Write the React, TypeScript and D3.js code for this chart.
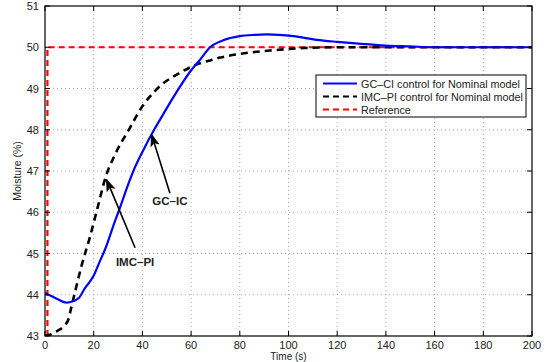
import * as d3 from 'd3';

// GC-CI response (blue)
const gcTime = [0, 4, 8.9, 13.7, 16.4, 19.8, 22.6, 24.6, 28.7, 30.1, 34.9, 36.3, 40.4, 44.8, 47.2, 51, 55.5, 59.5, 63.7, 67.8, 73.2, 80, 86, 91, 96, 102, 111.6, 120, 130, 140, 150, 160, 200];
const gcValue = [44.04, 43.93, 43.81, 43.91, 44.16, 44.44, 44.82, 45.09, 45.78, 46.0, 46.79, 47.0, 47.51, 48.0, 48.24, 48.62, 49.05, 49.4, 49.7, 50.0, 50.17, 50.27, 50.3, 50.31, 50.3, 50.27, 50.18, 50.13, 50.08, 50.04, 50.02, 50.0, 50.0];

// IMC-PI response (black dashed)
const imcTime = [0, 2, 5.3, 8, 9.6, 10.7, 12.3, 15, 18.5, 21.2, 25, 28.7, 35, 40, 45, 48, 52.7, 55.4, 59.5, 64, 67.8, 72, 80, 92.4, 106, 120, 200];
const imcValue = [43.0, 43.03, 43.13, 43.25, 43.4, 43.67, 44.06, 44.7, 45.41, 46.02, 46.87, 47.39, 48.06, 48.57, 48.93, 49.1, 49.29, 49.38, 49.51, 49.62, 49.68, 49.75, 49.84, 49.92, 49.98, 50.0, 50.0];

// Reference step (red dashed)
const refTime = [1, 1, 200];
const refValue = [43, 50, 50];

const xTicks = [0, 20, 40, 60, 80, 100, 120, 140, 160, 180, 200];
const yTicks = [43, 44, 45, 46, 47, 48, 49, 50, 51];

const legendLabels = ['GC\u2013CI control for Nominal model', 'IMC\u2013PI control for Nominal model', 'Reference'];

// arrow annotations
const arrowNames = ['IMC\u2013PI', 'GC\u2013IC'];
const arrowTip: [number, number][] = [[25.3, 46.79], [43.8, 47.88]];
const arrowTail: [number, number][] = [[37, 45.14], [51.3, 46.46]];
const arrowLabel: [number, number][] = [[37, 44.8], [51.3, 46.28]];

const W = 551;
const H = 362;
const margin = { top: 6, right: 19, bottom: 26, left: 45 };
const FONT = '"Liberation Sans", Arial, Helvetica, sans-serif';

export default function App() {
  const iw = W - margin.left - margin.right;
  const ih = H - margin.top - margin.bottom;
  const x = d3.scaleLinear().domain([0, 200]).range([0, iw]);
  const y = d3.scaleLinear().domain([43, 51]).range([ih, 0]);

  const line = d3
    .line<[number, number]>()
    .x((d) => x(d[0]))
    .y((d) => y(d[1]))
    .curve(d3.curveMonotoneX);
  const straight = d3
    .line<[number, number]>()
    .x((d) => x(d[0]))
    .y((d) => y(d[1]));

  const gcData = gcTime.map((t, i) => [t, gcValue[i]] as [number, number]);
  const imcData = imcTime.map((t, i) => [t, imcValue[i]] as [number, number]);
  const refData = refTime.map((t, i) => [t, refValue[i]] as [number, number]);

  const arrowHead = (tip: [number, number], tail: [number, number]) => {
    const tx = x(tip[0]);
    const ty = y(tip[1]);
    const ang = Math.atan2(ty - y(tail[1]), tx - x(tail[0]));
    const len = 11;
    const half = 4;
    const bx = tx - len * Math.cos(ang);
    const by = ty - len * Math.sin(ang);
    const nx = -Math.sin(ang);
    const ny = Math.cos(ang);
    const mx = tx - (len - 3) * Math.cos(ang);
    const my = ty - (len - 3) * Math.sin(ang);
    return `M${tx},${ty}L${bx + nx * half},${by + ny * half}L${mx},${my}L${bx - nx * half},${by - ny * half}Z`;
  };

  const legX = 316 - margin.left;
  const legY = 75 - margin.top;
  const legW = 210;
  const legH = 42;

  return (
    <svg width={W} height={H} style={{ position: 'absolute', left: 0, top: 0, background: '#fff' }} fontFamily={FONT}>
      <defs>
        <clipPath id="plotClip">
          <rect x={0} y={0} width={iw} height={ih} />
        </clipPath>
      </defs>
      <g transform={`translate(${margin.left},${margin.top})`}>
        {/* grid */}
        {xTicks.slice(1, -1).map((t) => (
          <line key={'gx' + t} x1={x(t)} x2={x(t)} y1={0} y2={ih} stroke="#999" strokeWidth={0.8} strokeDasharray="1,3" />
        ))}
        {yTicks.slice(1, -1).map((t) => (
          <line key={'gy' + t} x1={0} x2={iw} y1={y(t)} y2={y(t)} stroke="#999" strokeWidth={0.8} strokeDasharray="1,3" />
        ))}

        {/* curves */}
        <g clipPath="url(#plotClip)">
          <path d={straight(refData) ?? ''} fill="none" stroke="#ff0000" strokeWidth={2.2} strokeDasharray="6,4" />
          <path d={line(imcData) ?? ''} fill="none" stroke="#000" strokeWidth={2.6} strokeDasharray="7,5" />
          <path d={line(gcData) ?? ''} fill="none" stroke="#0000ff" strokeWidth={2.2} />
        </g>

        {/* arrows */}
        {arrowNames.map((name, i) => (
          <g key={name}>
            <line
              x1={x(arrowTail[i][0])}
              y1={y(arrowTail[i][1])}
              x2={x(arrowTip[i][0])}
              y2={y(arrowTip[i][1])}
              stroke="#000"
              strokeWidth={1.6}
            />
            <path d={arrowHead(arrowTip[i], arrowTail[i])} fill="#000" stroke="#000" strokeWidth={1} />
            <text
              x={x(arrowLabel[i][0])}
              y={y(arrowLabel[i][1])}
              textAnchor="middle"
              dominantBaseline="central"
              fontSize={11.5}
              fontWeight="bold"
              fill="#222"
            >
              {name}
            </text>
          </g>
        ))}

        {/* axes box and inward ticks */}
        <rect x={0} y={0} width={iw} height={ih} fill="none" stroke="#000" strokeWidth={1.2} />
        {xTicks.map((t) => (
          <g key={'tx' + t}>
            <line x1={x(t)} x2={x(t)} y1={ih} y2={ih - 5} stroke="#000" />
            <line x1={x(t)} x2={x(t)} y1={0} y2={5} stroke="#000" />
            <text x={x(t)} y={ih + 9} textAnchor="middle" dominantBaseline="central" fontSize={11} fill="#222">
              {t}
            </text>
          </g>
        ))}
        {yTicks.map((t) => (
          <g key={'ty' + t}>
            <line x1={0} x2={5} y1={y(t)} y2={y(t)} stroke="#000" />
            <line x1={iw} x2={iw - 5} y1={y(t)} y2={y(t)} stroke="#000" />
            <text x={-6} y={y(t)} textAnchor="end" dominantBaseline="central" fontSize={11} fill="#222">
              {t}
            </text>
          </g>
        ))}

        {/* axis labels */}
        <text x={iw / 2} y={ih + 20} textAnchor="middle" dominantBaseline="central" fontSize={10} fill="#222">
          Time (s)
        </text>
        <text
          transform={`translate(${-28},${ih / 2}) rotate(-90)`}
          textAnchor="middle"
          dominantBaseline="central"
          fontSize={10.5}
          fill="#222"
        >
          Moisture (%)
        </text>

        {/* legend */}
        <g transform={`translate(${legX},${legY})`}>
          <rect x={0} y={0} width={legW} height={legH} fill="#fff" stroke="#000" strokeWidth={1} />
          {legendLabels.map((lab, i) => {
            const ly = 8.5 + i * 13;
            const stroke = i === 0 ? '#0000ff' : i === 1 ? '#000' : '#ff0000';
            const dash = i === 0 ? undefined : '6,4';
            return (
              <g key={lab}>
                <line x1={7} x2={41} y1={ly} y2={ly} stroke={stroke} strokeWidth={2} strokeDasharray={dash} />
                <text x={45} y={ly} dominantBaseline="central" fontSize={10.8} fill="#222">
                  {lab}
                </text>
              </g>
            );
          })}
        </g>
      </g>
    </svg>
  );
}
